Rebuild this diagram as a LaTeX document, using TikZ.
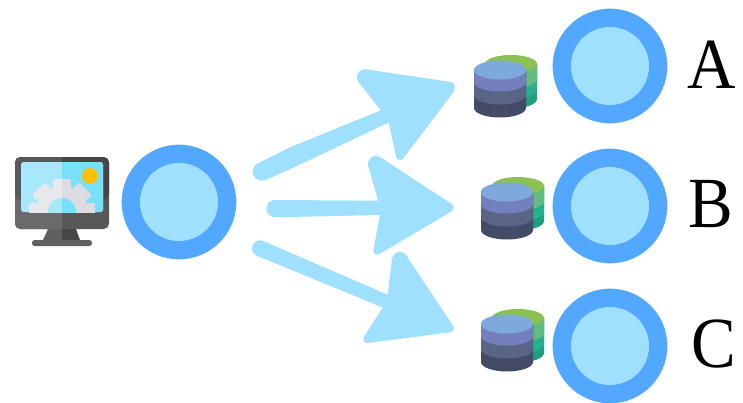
\documentclass[tikz,border=0pt]{standalone}
\usepackage{fontspec}
\setmainfont[FakeStretch=0.93]{Liberation Serif}
\definecolor{ringblue}{HTML}{52A8FF}
\definecolor{paleblue}{HTML}{A0E0FF}
\definecolor{backtop}{RGB}{139,193,82}
\definecolor{backa}{RGB}{98,188,127}
\definecolor{backb}{RGB}{38,176,142}
\definecolor{backc}{RGB}{31,158,126}
\definecolor{fronttop}{RGB}{126,169,220}
\definecolor{fronta}{RGB}{116,128,190}
\definecolor{frontb}{RGB}{90,101,133}
\definecolor{frontc}{RGB}{68,75,102}
\definecolor{gearl}{RGB}{232,232,236}
\definecolor{gearr}{RGB}{220,220,226}
\definecolor{screenl}{RGB}{168,232,252}
\definecolor{screenr}{RGB}{120,224,248}
\definecolor{sunyellow}{RGB}{255,193,7}
\definecolor{bezela}{RGB}{106,106,106}
\definecolor{bezelb}{RGB}{88,88,88}
\definecolor{bezelc}{RGB}{70,70,70}
\definecolor{standl}{RGB}{96,96,96}
\tikzset{
  outerdot/.style={circle,fill=ringblue,minimum size=86pt,inner sep=0pt},
  innerdot/.style={circle,fill=paleblue,minimum size=58.5pt,inner sep=0pt},
  letter/.style={font=\fontsize{54}{54}\selectfont,inner sep=0pt,anchor=base},
  sketch/.style={fill=paleblue,draw=paleblue,line width=6pt,line join=round},
  shaft/.style={fill=paleblue}
}
\newcommand{\dbstack}[2]{%
\begin{scope}[shift={(#1,#2)}]
  \fill[backc] (485,64) -- (485,99) arc[start angle=180,end angle=360,x radius=26,y radius=-9.5] -- (537,64) -- cycle;
  \fill[backb] (485,64) -- (485,90) arc[start angle=180,end angle=360,x radius=26,y radius=-9.5] -- (537,64) -- cycle;
  \fill[backa] (485,64) -- (485,79) arc[start angle=180,end angle=360,x radius=26,y radius=-9.5] -- (537,64) -- cycle;
  \fill[backtop] (511,64) ellipse[x radius=26,y radius=9];
  \fill[frontc] (474,70) -- (474,108) arc[start angle=180,end angle=360,x radius=26,y radius=-9.5] -- (526,70) -- cycle;
  \fill[frontb] (474,70) -- (474,95) arc[start angle=180,end angle=360,x radius=26,y radius=-9.5] -- (526,70) -- cycle;
  \fill[fronta] (474,70) -- (474,82) arc[start angle=180,end angle=360,x radius=26,y radius=-9.5] -- (526,70) -- cycle;
  \fill[fronttop] (500,70) ellipse[x radius=26,y radius=9.5];
\end{scope}}
\begin{document}
\begin{tikzpicture}[x=0.75pt,y=-0.75pt]
\useasboundingbox (0,0) rectangle (743,403);
\fill[white] (0,0) rectangle (743,403);

% monitor
\fill[rounded corners=4pt,bezelb] (15,157) rectangle (109,229);
\begin{scope}
  \clip (15,157) rectangle (62,229);
  \fill[rounded corners=4pt,bezela] (15,190) rectangle (109,229);
  \fill[rounded corners=4pt,bezelb] (15,157) rectangle (109,200);
\end{scope}
\begin{scope}
  \clip (62,157) rectangle (109,229);
  \fill[rounded corners=4pt,bezelc] (15,157) rectangle (109,200);
\end{scope}
\fill[rounded corners=2pt,screenl] (21,162) rectangle (103,212);
\begin{scope}
  \clip (62,157) rectangle (109,229);
  \fill[rounded corners=2pt,screenr] (21,162) rectangle (103,212);
\end{scope}
\fill[sunyellow] (90,176) circle[radius=8];
\begin{scope}
  \clip (21,162) rectangle (103,212);
  \begin{scope}
    \clip (21,162) rectangle (62,212);
    \fill[gearl] (62,212) circle[radius=26];
    \foreach \a in {0,45,...,315}{
      \fill[rotate around={\a:(62,212)},rounded corners=1pt,gearl] (53,179) rectangle (71,195);
    }
  \end{scope}
  \begin{scope}
    \clip (62,162) rectangle (103,212);
    \fill[gearr] (62,212) circle[radius=26];
    \foreach \a in {0,45,...,315}{
      \fill[rotate around={\a:(62,212)},rounded corners=1pt,gearr] (53,179) rectangle (71,195);
    }
  \end{scope}
  \fill[screenl] (62,212) circle[radius=14];
  \clip (62,162) rectangle (103,212);
  \fill[screenr] (62,212) circle[radius=14];
\end{scope}
\fill[standl] (48,229) -- (62,229) -- (62,240) -- (43,240) -- cycle;
\fill[bezelc] (62,229) -- (76,229) -- (80,240) -- (62,240) -- cycle;
\fill[rounded corners=2pt,standl] (32,240) rectangle (92,246);

% circles
\node[outerdot] (src) at (179,202) {};
\node[innerdot] at (src) {};
\node[outerdot] (a) at (610,66) {};
\node[innerdot] at (a) {};
\node[outerdot] (b) at (610,206) {};
\node[innerdot] at (b) {};
\node[outerdot] (c) at (610,346) {};
\node[innerdot] at (c) {};

% labels
\node[letter] (la) at (712,88.5) {A};
\node[letter] (lb) at (711,227) {B};
\node[letter] (lc) at (714,367) {C};

% databases
\dbstack{0}{0}
\dbstack{7}{122}
\dbstack{7}{254}

% hand-drawn arrows
\begin{scope}[shift={(240,60)},x=0.25pt,y=-0.25pt]
% upper arrow
\fill[shaft] (65,335) circle[radius=27];
\fill[shaft] (50,312) -- (150,262) -- (425,150) -- (447,187) -- (150,328) -- (77,360) -- cycle;
\fill[shaft] (375,52) circle[radius=24];
\filldraw[sketch] (377,40) -- (632,78) -- (632,88) -- (480,288) -- (458,185) -- (437,150) -- (365,59) -- (367,44) -- cycle;
% middle arrow
\fill[shaft] (105,446) circle[radius=26];
\fill[shaft] (105,420) -- (415,422) -- (420,465) -- (105,472) -- cycle;
\fill[shaft] (408,312) circle[radius=24];
\filldraw[sketch] (415,302) -- (630,443) -- (412,572) -- (432,465) -- (427,422) -- (396,315) -- (404,301) -- cycle;
% lower arrow
\fill[shaft] (60,565) circle[radius=24];
\fill[shaft] (70,543) -- (445,705) -- (430,743) -- (50,587) -- cycle;
\fill[shaft] (480,600) circle[radius=24];
\filldraw[sketch] (489,593) -- (630,805) -- (382,837) -- (442,743) -- (455,705) -- (468,599) -- (478,588) -- cycle;
\end{scope}
\end{tikzpicture}
\end{document}
